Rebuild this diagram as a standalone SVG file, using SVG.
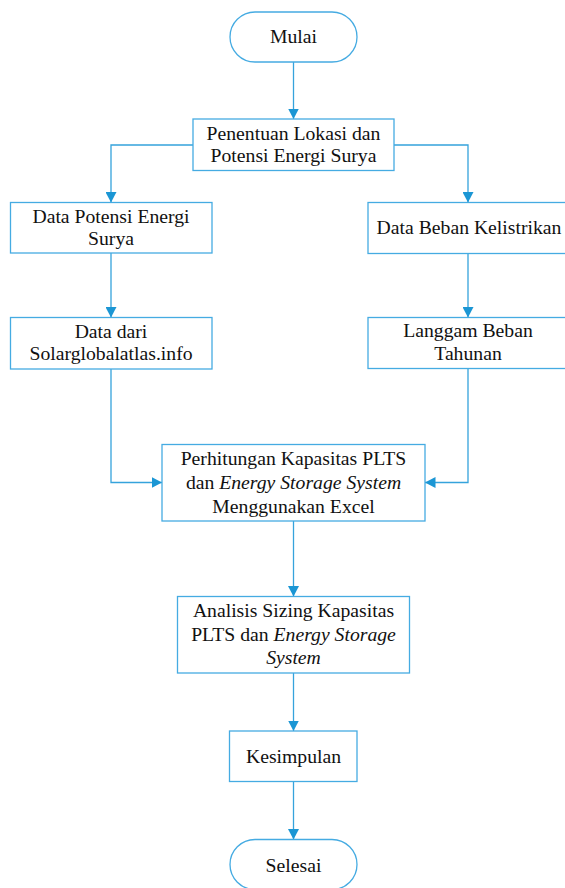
<svg xmlns="http://www.w3.org/2000/svg" width="565" height="888" viewBox="0 0 565 888">
<defs>
<marker id="ah" markerUnits="userSpaceOnUse" markerWidth="11" markerHeight="11" refX="10.5" refY="5.5" orient="auto">
<path d="M0,0 L10.5,5.5 L0,11 Z" fill="#1b96d4"/>
</marker>
<style>
.box{fill:#ffffff;stroke:#45abe2;stroke-width:1.3}
.ln{fill:none;stroke:#35a3dc;stroke-width:1.3;marker-end:url(#ah)}
text{font-family:"Liberation Serif","Times New Roman",serif;font-size:19.7px;fill:#111111;text-anchor:middle}
.i{font-style:italic}
</style>
</defs>
<rect width="565" height="888" fill="#ffffff"/>
<g id="connectors">
<path class="ln" d="M293.5,62 V119"/>
<path class="ln" d="M193,145 H111 V202.5"/>
<path class="ln" d="M394,145 H468 V202.5"/>
<path class="ln" d="M111,253 V317.5"/>
<path class="ln" d="M468,253.5 V317.5"/>
<path class="ln" d="M111,369 V482.5 H162"/>
<path class="ln" d="M468,368.5 V482.5 H425"/>
<path class="ln" d="M293.5,521 V596.5"/>
<path class="ln" d="M293.5,673 V731"/>
<path class="ln" d="M293.5,781.5 V839.5"/>
</g>
<g id="mulai">
<rect class="box" x="230" y="12" width="127" height="50" rx="25"/>
<text x="293.5" y="42.5">Mulai</text>
</g>
<g id="penentuan">
<rect class="box" x="193" y="119" width="201" height="51.5"/>
<text x="293.5" y="139.5">Penentuan Lokasi dan</text>
<text x="293.5" y="161.5">Potensi Energi Surya</text>
</g>
<g id="data-potensi">
<rect class="box" x="10.5" y="202.5" width="201.5" height="50.5"/>
<text x="111" y="222.5">Data Potensi Energi</text>
<text x="111" y="244.5">Surya</text>
</g>
<g id="data-beban">
<rect class="box" x="368" y="202.5" width="200" height="51"/>
<text x="469" y="234">Data Beban Kelistrikan</text>
</g>
<g id="data-dari">
<rect class="box" x="10.5" y="317.5" width="201.5" height="51.5"/>
<text x="111" y="338">Data dari</text>
<text x="111" y="360.3">Solarglobalatlas.info</text>
</g>
<g id="langgam">
<rect class="box" x="368" y="317.5" width="200" height="51"/>
<text x="468" y="337">Langgam Beban</text>
<text x="468" y="360">Tahunan</text>
</g>
<g id="perhitungan">
<rect class="box" x="162" y="444.5" width="263" height="76.5"/>
<text x="293.5" y="465">Perhitungan Kapasitas PLTS</text>
<text x="293.5" y="489">dan <tspan class="i">Energy Storage System</tspan></text>
<text x="293.5" y="512.7">Menggunakan Excel</text>
</g>
<g id="analisis">
<rect class="box" x="177.5" y="596.5" width="232" height="76.5"/>
<text x="293.5" y="616.7">Analisis Sizing Kapasitas</text>
<text x="293.5" y="640.5">PLTS dan <tspan class="i">Energy Storage</tspan></text>
<text x="293.5" y="663.5" class="i">System</text>
</g>
<g id="kesimpulan">
<rect class="box" x="229.5" y="731" width="127.5" height="50.5"/>
<text x="293.5" y="763">Kesimpulan</text>
</g>
<g id="selesai">
<rect class="box" x="230" y="839.5" width="127" height="50" rx="25"/>
<text x="293.5" y="871.7">Selesai</text>
</g>
</svg>
